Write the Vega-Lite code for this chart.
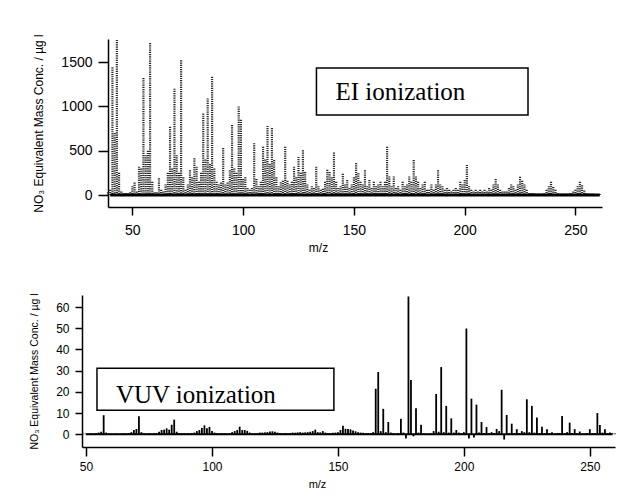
{
  "$schema": "https://vega.github.io/schema/vega-lite/v6.json",
  "padding": {"left": 29, "top": 33, "right": 10, "bottom": 5},
  "spacing": 39,
  "background": "white",
  "config": {
    "view": {"stroke": null},
    "font": "Liberation Sans",
    "axis": {"grid": false, "domainColor": "black", "domainWidth": 1.5, "tickColor": "black", "tickWidth": 1.5, "labelColor": "black", "titleColor": "black", "labelFont": "Liberation Sans", "titleFont": "Liberation Sans", "titleFontWeight": "normal", "format": "d", "labelOverlap": false}
  },
  "datasets": {
    "ei": [
      {"mz":39,"v":30},{"mz":40,"v":60},{"mz":41,"v":1440},{"mz":42,"v":700},{"mz":43,"v":1750},{"mz":44,"v":250},{"mz":45,"v":40},{"mz":46,"v":20},{"mz":47,"v":20},{"mz":48,"v":20},{"mz":49,"v":30},
      {"mz":50,"v":100},{"mz":51,"v":140},{"mz":52,"v":40},{"mz":53,"v":320},{"mz":54,"v":300},{"mz":55,"v":1320},{"mz":56,"v":450},{"mz":57,"v":500},{"mz":58,"v":1715},{"mz":59,"v":150},
      {"mz":60,"v":30},{"mz":61,"v":30},{"mz":62,"v":190},{"mz":63,"v":60},{"mz":64,"v":40},{"mz":65,"v":120},{"mz":66,"v":250},{"mz":67,"v":770},{"mz":68,"v":300},{"mz":69,"v":1200},
      {"mz":70,"v":450},{"mz":71,"v":250},{"mz":72,"v":1520},{"mz":73,"v":200},{"mz":74,"v":60},{"mz":75,"v":120},{"mz":76,"v":280},{"mz":77,"v":200},{"mz":78,"v":415},{"mz":79,"v":320},
      {"mz":80,"v":150},{"mz":81,"v":250},{"mz":82,"v":920},{"mz":83,"v":400},{"mz":84,"v":1090},{"mz":85,"v":350},{"mz":86,"v":1335},{"mz":87,"v":300},{"mz":88,"v":150},{"mz":89,"v":120},
      {"mz":90,"v":140},{"mz":91,"v":530},{"mz":92,"v":120},{"mz":93,"v":140},{"mz":94,"v":280},{"mz":95,"v":790},{"mz":96,"v":300},{"mz":97,"v":250},{"mz":98,"v":1000},{"mz":99,"v":850},
      {"mz":100,"v":180},{"mz":101,"v":200},{"mz":102,"v":80},{"mz":103,"v":60},{"mz":104,"v":80},{"mz":105,"v":585},{"mz":106,"v":180},{"mz":107,"v":100},{"mz":108,"v":150},{"mz":109,"v":545},
      {"mz":110,"v":400},{"mz":111,"v":780},{"mz":112,"v":350},{"mz":113,"v":755},{"mz":114,"v":395},{"mz":115,"v":200},{"mz":116,"v":100},{"mz":117,"v":145},{"mz":118,"v":160},{"mz":119,"v":545},
      {"mz":120,"v":160},{"mz":121,"v":120},{"mz":122,"v":150},{"mz":123,"v":320},{"mz":124,"v":200},{"mz":125,"v":430},{"mz":126,"v":250},{"mz":127,"v":505},{"mz":128,"v":260},{"mz":129,"v":120},
      {"mz":130,"v":60},{"mz":131,"v":100},{"mz":132,"v":80},{"mz":133,"v":320},{"mz":134,"v":100},{"mz":135,"v":60},{"mz":136,"v":70},{"mz":137,"v":150},{"mz":138,"v":285},{"mz":139,"v":260},
      {"mz":140,"v":200},{"mz":141,"v":480},{"mz":142,"v":150},{"mz":143,"v":80},{"mz":144,"v":100},{"mz":145,"v":240},{"mz":146,"v":120},{"mz":147,"v":170},{"mz":148,"v":80},{"mz":149,"v":120},
      {"mz":150,"v":200},{"mz":151,"v":360},{"mz":152,"v":245},{"mz":153,"v":150},{"mz":154,"v":120},{"mz":155,"v":280},{"mz":156,"v":100},{"mz":157,"v":170},{"mz":158,"v":80},{"mz":159,"v":150},
      {"mz":160,"v":100},{"mz":161,"v":120},{"mz":162,"v":150},{"mz":163,"v":100},{"mz":164,"v":150},{"mz":165,"v":545},{"mz":166,"v":210},{"mz":167,"v":100},{"mz":168,"v":210},{"mz":169,"v":80},
      {"mz":170,"v":100},{"mz":171,"v":60},{"mz":172,"v":150},{"mz":173,"v":100},{"mz":174,"v":120},{"mz":175,"v":210},{"mz":176,"v":150},{"mz":177,"v":395},{"mz":178,"v":210},{"mz":179,"v":150},
      {"mz":180,"v":80},{"mz":181,"v":120},{"mz":182,"v":150},{"mz":183,"v":60},{"mz":184,"v":60},{"mz":185,"v":120},{"mz":186,"v":60},{"mz":187,"v":120},{"mz":188,"v":280},{"mz":189,"v":120},
      {"mz":190,"v":100},{"mz":191,"v":60},{"mz":192,"v":80},{"mz":193,"v":60},{"mz":194,"v":40},{"mz":195,"v":60},{"mz":196,"v":80},{"mz":197,"v":60},{"mz":198,"v":150},{"mz":199,"v":120},
      {"mz":200,"v":170},{"mz":201,"v":340},{"mz":202,"v":100},{"mz":203,"v":60},{"mz":204,"v":40},{"mz":205,"v":60},{"mz":206,"v":40},{"mz":207,"v":60},{"mz":208,"v":40},{"mz":209,"v":60},
      {"mz":210,"v":40},{"mz":211,"v":80},{"mz":212,"v":60},{"mz":213,"v":120},{"mz":214,"v":180},{"mz":215,"v":120},{"mz":216,"v":60},{"mz":217,"v":40},{"mz":218,"v":40},{"mz":219,"v":40},
      {"mz":220,"v":80},{"mz":221,"v":120},{"mz":222,"v":100},{"mz":223,"v":60},{"mz":224,"v":120},{"mz":225,"v":205},{"mz":226,"v":160},{"mz":227,"v":120},{"mz":228,"v":60},{"mz":229,"v":20},
      {"mz":230,"v":20},{"mz":231,"v":20},{"mz":232,"v":15},{"mz":233,"v":15},{"mz":234,"v":15},{"mz":235,"v":15},{"mz":236,"v":20},{"mz":237,"v":60},{"mz":238,"v":100},{"mz":239,"v":150},
      {"mz":240,"v":90},{"mz":241,"v":60},{"mz":242,"v":20},{"mz":243,"v":15},{"mz":244,"v":15},{"mz":245,"v":15},{"mz":246,"v":15},{"mz":247,"v":15},{"mz":248,"v":20},{"mz":249,"v":40},
      {"mz":250,"v":60},{"mz":251,"v":100},{"mz":252,"v":150},{"mz":253,"v":110},{"mz":254,"v":50},{"mz":255,"v":20},{"mz":256,"v":15},{"mz":257,"v":15},{"mz":258,"v":15},{"mz":259,"v":10},
      {"mz":260,"v":10},{"mz":261,"v":10}
    ],
    "vuv": [
      {"mz":49,"v":0.3},{"mz":50,"v":0.4},{"mz":51,"v":0.3},{"mz":52,"v":0.5},{"mz":53,"v":0.4},{"mz":54,"v":0.6},{"mz":55,"v":0.8},{"mz":56,"v":1.2},{"mz":57,"v":9.0},{"mz":58,"v":0.8},{"mz":59,"v":0.4},
      {"mz":60,"v":0.3},{"mz":61,"v":0.3},{"mz":62,"v":0.4},{"mz":63,"v":0.3},{"mz":64,"v":0.4},{"mz":65,"v":0.5},{"mz":66,"v":0.4},{"mz":67,"v":0.6},{"mz":68,"v":1.0},{"mz":69,"v":2.0},
      {"mz":70,"v":2.5},{"mz":71,"v":8.5},{"mz":72,"v":1.0},{"mz":73,"v":0.5},{"mz":74,"v":0.4},{"mz":75,"v":0.5},{"mz":76,"v":0.4},{"mz":77,"v":0.5},{"mz":78,"v":0.6},{"mz":79,"v":1.2},
      {"mz":80,"v":2.0},{"mz":81,"v":2.2},{"mz":82,"v":2.8},{"mz":83,"v":2.2},{"mz":84,"v":4.5},{"mz":85,"v":6.9},{"mz":86,"v":1.2},{"mz":87,"v":0.6},{"mz":88,"v":0.5},{"mz":89,"v":0.5},
      {"mz":90,"v":0.4},{"mz":91,"v":0.5},{"mz":92,"v":0.6},{"mz":93,"v":0.8},{"mz":94,"v":1.5},{"mz":95,"v":2.0},{"mz":96,"v":3.0},{"mz":97,"v":4.2},{"mz":98,"v":2.8},{"mz":99,"v":3.5},
      {"mz":100,"v":1.5},{"mz":101,"v":0.8},{"mz":102,"v":0.5},{"mz":103,"v":0.4},{"mz":104,"v":0.5},{"mz":105,"v":0.5},{"mz":106,"v":0.4},{"mz":107,"v":0.6},{"mz":108,"v":1.0},{"mz":109,"v":1.5},
      {"mz":110,"v":2.0},{"mz":111,"v":3.6},{"mz":112,"v":2.0},{"mz":113,"v":2.0},{"mz":114,"v":1.6},{"mz":115,"v":0.8},{"mz":116,"v":0.5},{"mz":117,"v":0.5},{"mz":118,"v":0.6},{"mz":119,"v":0.8},
      {"mz":120,"v":0.8},{"mz":121,"v":0.9},{"mz":122,"v":1.0},{"mz":123,"v":1.3},{"mz":124,"v":1.4},{"mz":125,"v":1.2},{"mz":126,"v":0.8},{"mz":127,"v":0.6},{"mz":128,"v":0.5},{"mz":129,"v":0.6},
      {"mz":130,"v":0.5},{"mz":131,"v":0.6},{"mz":132,"v":0.8},{"mz":133,"v":0.7},{"mz":134,"v":0.9},{"mz":135,"v":1.0},{"mz":136,"v":0.8},{"mz":137,"v":0.9},{"mz":138,"v":1.0},{"mz":139,"v":1.2},
      {"mz":140,"v":1.5},{"mz":141,"v":2.2},{"mz":142,"v":1.0},{"mz":143,"v":0.9},{"mz":144,"v":1.5},{"mz":145,"v":0.8},{"mz":146,"v":0.6},{"mz":147,"v":0.6},{"mz":148,"v":0.7},{"mz":149,"v":0.8},
      {"mz":150,"v":1.0},{"mz":151,"v":2.0},{"mz":152,"v":4.0},{"mz":153,"v":2.6},{"mz":154,"v":2.5},{"mz":155,"v":2.3},{"mz":156,"v":1.8},{"mz":157,"v":1.4},{"mz":158,"v":1.0},{"mz":159,"v":0.8},
      {"mz":160,"v":0.7},{"mz":161,"v":0.6},{"mz":162,"v":0.5},{"mz":163,"v":0.6},{"mz":164,"v":1.0},{"mz":165,"v":21.5},{"mz":166,"v":29.4},{"mz":167,"v":1.5},{"mz":168,"v":12.0},{"mz":169,"v":1.0},
      {"mz":170,"v":5.8},{"mz":171,"v":0.8},{"mz":172,"v":0.5},{"mz":173,"v":0.3},{"mz":174,"v":0.6},{"mz":175,"v":7.3},{"mz":176,"v":0.8},{"mz":177,"v":-2.0},{"mz":178,"v":65},{"mz":179,"v":25.6},
      {"mz":180,"v":-1.0},{"mz":181,"v":12.3},{"mz":182,"v":0.8},{"mz":183,"v":4.5},{"mz":184,"v":0.5},{"mz":185,"v":0.3},{"mz":186,"v":0.2},{"mz":187,"v":0.4},{"mz":188,"v":1.5},{"mz":189,"v":19.0},
      {"mz":190,"v":1.2},{"mz":191,"v":31.7},{"mz":192,"v":1.0},{"mz":193,"v":13.4},{"mz":194,"v":0.8},{"mz":195,"v":7.5},{"mz":196,"v":0.8},{"mz":197,"v":2.0},{"mz":198,"v":0.8},{"mz":199,"v":0.5},
      {"mz":200,"v":1.0},{"mz":201,"v":49.9},{"mz":202,"v":-2.0},{"mz":203,"v":16.8},{"mz":204,"v":-1.5},{"mz":205,"v":14.0},{"mz":206,"v":0.8},{"mz":207,"v":5.8},{"mz":208,"v":0.6},{"mz":209,"v":3.4},
      {"mz":210,"v":0.6},{"mz":211,"v":1.0},{"mz":212,"v":0.6},{"mz":213,"v":2.5},{"mz":214,"v":1.5},{"mz":215,"v":21.0},{"mz":216,"v":-2.5},{"mz":217,"v":9.1},{"mz":218,"v":0.5},{"mz":219,"v":5.0},
      {"mz":220,"v":0.5},{"mz":221,"v":2.4},{"mz":222,"v":0.6},{"mz":223,"v":1.5},{"mz":224,"v":1.0},{"mz":225,"v":16.5},{"mz":226,"v":1.0},{"mz":227,"v":13.4},{"mz":228,"v":0.8},{"mz":229,"v":7.9},
      {"mz":230,"v":0.6},{"mz":231,"v":3.5},{"mz":232,"v":0.5},{"mz":233,"v":2.4},{"mz":234,"v":0.5},{"mz":235,"v":1.0},{"mz":236,"v":0.4},{"mz":237,"v":0.5},{"mz":238,"v":0.6},{"mz":239,"v":8.6},
      {"mz":240,"v":0.6},{"mz":241,"v":1.0},{"mz":242,"v":5.5},{"mz":243,"v":0.6},{"mz":244,"v":2.4},{"mz":245,"v":0.5},{"mz":246,"v":1.3},{"mz":247,"v":0.4},{"mz":248,"v":0.4},{"mz":249,"v":0.6},
      {"mz":250,"v":2.4},{"mz":251,"v":0.5},{"mz":252,"v":0.6},{"mz":253,"v":10.0},{"mz":254,"v":4.4},{"mz":255,"v":0.8},{"mz":256,"v":2.4},{"mz":257,"v":0.6},{"mz":258,"v":0.8},{"mz":259,"v":0.5},
      {"mz":260,"v":0.4}
    ]
  },
  "vconcat": [
    {
      "width": 520,
      "height": 168,
      "layer": [
        {"data": {"name": "ei"},
          "mark": {"type": "rule", "color": "#2a2a2a", "strokeWidth": 2.2, "strokeDash": [1.2, 1]},
          "encoding": {
            "x": {"field": "mz", "type": "quantitative",
              "scale": {"domain": [39, 262], "range": [26, 520], "nice": false, "zero": false},
              "axis": {"values": [50, 100, 150, 200, 250], "title": "m/z", "titleX": 236, "titleFontSize": 12, "labelFontSize": 14, "tickSize": 8, "labelPadding": 8, "titlePadding": 5}},
            "y": {"field": "v", "type": "quantitative",
              "scale": {"domain": [-135, 1760], "nice": false, "zero": false},
              "axis": {"values": [0, 500, 1000, 1500], "title": "NO₃ Equivalent Mass Conc. / µg l", "offset": -26, "titleFontSize": 12, "labelFontSize": 14, "tickSize": 10, "labelPadding": 6, "titlePadding": 15}},
            "y2": {"datum": 0}}},
        {"data": {"values": [{"k": "baseline"}]},
          "mark": {"type": "rule", "color": "black", "strokeWidth": 3},
          "encoding": {"x": {"datum": 40, "type": "quantitative"}, "x2": {"datum": 261}, "y": {"datum": 0, "type": "quantitative"}}},
        {"data": {"values": [{"k": "box"}]},
          "mark": {"type": "rect", "filled": false, "stroke": "black", "strokeWidth": 1.5},
          "encoding": {"x": {"datum": 133.1, "type": "quantitative"}, "x2": {"datum": 228.6}, "y": {"datum": 902, "type": "quantitative"}, "y2": {"datum": 1432}}},
        {"data": {"values": [{"k": "label"}]},
          "mark": {"type": "text", "font": "Liberation Serif", "fontSize": 25, "color": "black", "align": "center", "baseline": "middle"},
          "encoding": {"x": {"datum": 171, "type": "quantitative"}, "y": {"datum": 1160, "type": "quantitative"}, "text": {"value": "EI ionization"}}}
      ]
    },
    {
      "width": 533,
      "height": 152,
      "layer": [
        {"data": {"name": "vuv"},
          "mark": {"type": "rule", "color": "black", "strokeWidth": 1.8},
          "encoding": {
            "x": {"field": "mz", "type": "quantitative",
              "scale": {"domain": [48.4, 260], "nice": false, "zero": false},
              "axis": {"values": [50, 100, 150, 200, 250], "title": "m/z", "titleX": 235, "titleFontSize": 11, "labelFontSize": 12, "tickSize": 9, "labelPadding": 5, "titlePadding": 6}},
            "y": {"field": "v", "type": "quantitative",
              "scale": {"domain": [-6, 65.7], "nice": false, "zero": false},
              "axis": {"values": [0, 10, 20, 30, 40, 50, 60], "title": "NO₃ Equivalent Mass Conc. / µg l", "titleFontSize": 10.5, "labelFontSize": 12, "tickSize": 7, "labelPadding": 6, "titlePadding": 16}},
            "y2": {"datum": 0}}},
        {"data": {"values": [{"k": "baseline"}]},
          "mark": {"type": "rule", "color": "black", "strokeWidth": 2},
          "encoding": {"x": {"datum": 50, "type": "quantitative"}, "x2": {"datum": 259},
            "y": {"datum": 0, "type": "quantitative", "axis": {"values": [0, 10, 20, 30, 40, 50, 60], "title": "NO₃ Equivalent Mass Conc. / µg l", "titleFontSize": 10.5, "labelFontSize": 12, "tickSize": 7, "labelPadding": 6, "titlePadding": 16}}}},
        {"data": {"values": [{"k": "box"}]},
          "mark": {"type": "rect", "filled": false, "stroke": "black", "strokeWidth": 1.5},
          "encoding": {"x": {"datum": 54.35, "type": "quantitative"}, "x2": {"datum": 148.4},
            "y": {"datum": 11.3, "type": "quantitative", "axis": {"values": [0, 10, 20, 30, 40, 50, 60], "title": "NO₃ Equivalent Mass Conc. / µg l", "titleFontSize": 10.5, "labelFontSize": 12, "tickSize": 7, "labelPadding": 6, "titlePadding": 16}}, "y2": {"datum": 31.2}}},
        {"data": {"values": [{"k": "label"}]},
          "mark": {"type": "text", "font": "Liberation Serif", "fontSize": 25, "color": "black", "align": "center", "baseline": "middle"},
          "encoding": {"x": {"datum": 93.6, "type": "quantitative"},
            "y": {"datum": 18.4, "type": "quantitative", "axis": {"values": [0, 10, 20, 30, 40, 50, 60], "title": "NO₃ Equivalent Mass Conc. / µg l", "titleFontSize": 10.5, "labelFontSize": 12, "tickSize": 7, "labelPadding": 6, "titlePadding": 16}}, "text": {"value": "VUV ionization"}}}
      ]
    }
  ]
}
